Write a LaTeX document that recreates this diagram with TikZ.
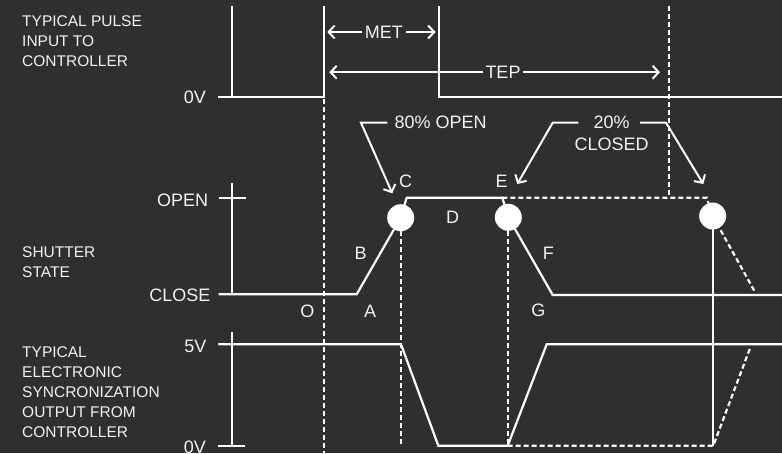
\documentclass[tikz,border=0pt]{standalone}
\usepackage{fontspec}
\setmainfont{Liberation Sans}
\usetikzlibrary{arrows.meta}
\definecolor{bg}{HTML}{2F2F2F}
\definecolor{fg}{HTML}{F2F2F2}
\begin{document}
\begin{tikzpicture}[x=1pt,y=-1pt,
  wave/.style={draw=white,line width=2.2pt,line join=miter},
  dsh/.style={draw=white,line width=2.2pt,dash pattern=on 5pt off 3pt},
  lbl/.style={text=fg,font=\fontsize{18}{22.7}\selectfont,inner sep=0pt},
  side/.style={text=fg,font=\fontsize{15.5}{20}\selectfont,inner sep=0pt,anchor=north west,align=left},
  arr/.style={draw=white,line width=2pt,-{Straight Barb[length=6pt,width=13pt]}},
  dot/.style={circle,fill=white,minimum size=27pt,inner sep=0pt}]
\fill[bg] (0,0) rectangle (782,453);
\useasboundingbox (0,0) rectangle (782,453);

% side labels
\node[side] (lpulse) at (22,15) {TYPICAL PULSE\\INPUT TO\\CONTROLLER};
\node[side] (lshut) at (22,246) {SHUTTER\\STATE};
\node[side] (lsync) at (22,346.7) {TYPICAL\\ELECTRONIC\\SYNCRONIZATION\\OUTPUT FROM\\CONTROLLER};

% axis labels
\node[lbl,anchor=east] (v0a) at (206,97.3) {0V};
\node[lbl,anchor=east] (open) at (208.3,200.3) {OPEN};
\node[lbl,anchor=east] (close) at (210.7,295) {CLOSE};
\node[lbl,anchor=east] (v5) at (206.7,346.3) {5V};
\node[lbl,anchor=east] (v0b) at (206,447) {0V};

% dashed verticals
\draw[dsh] (324,99) -- (324,453);
\draw[dsh] (401,231) -- (401,446);
\draw[dsh] (508,231) -- (508,446);
\draw[dsh] (669,6) -- (669,197.7);
% dashed alternate paths
\draw[dsh] (502.3,197.7) -- (706.7,197.7) -- (712.7,216) -- (755,292);
\draw[dsh] (507.7,445.7) -- (713.3,445.7) -- (750,348.3);

% top pulse
\draw[wave] (232,6) -- (232,97);
\draw[wave] (218,97) -- (324,97) -- (324,6);
\draw[wave] (439,6) -- (439,97) -- (782,97);

% shutter state
\draw[wave] (232,182.7) -- (232,294.3);
\draw[wave] (218.5,197.7) -- (245.7,197.7);
\draw[wave] (218.5,294.3) -- (356.7,294.3) -- (400.7,217.7) -- (406.7,197.7) -- (502.3,197.7) -- (508.3,217.3) -- (552.7,295) -- (782,295);

% sync output
\draw[wave] (232,331.7) -- (232,446);
\draw[wave] (218.3,446) -- (245,446);
\draw[wave] (218.3,344.3) -- (401,344.3) -- (438.3,445.7) -- (507.7,445.7) -- (546.7,344.3) -- (782,344.3);
\draw[wave] (713.3,216) -- (713.3,445.7);

% dots
\node[dot] (cC) at (400.7,217.7) {};
\node[dot] (cE) at (508.3,217.3) {};
\node[dot] (cR) at (712.7,216) {};

% MET / TEP
\node[lbl,inner sep=2.5pt] (met) at (383.8,32) {MET};
\coordinate (metL) at (327.3,32);
\coordinate (metR) at (435.5,32);
\draw[arr] (met) -- (metL);
\draw[arr] (met) -- (metR);
\node[lbl,inner sep=2pt] (tep) at (503,72.2) {TEP};
\coordinate (tepL) at (329.3,72.2);
\coordinate (tepR) at (660,72.2);
\draw[arr] (tep) -- (tepL);
\draw[arr] (tep) -- (tepR);

% callouts
\node[lbl,anchor=west] (o80) at (394.3,122) {80\% OPEN};
\coordinate (k80) at (361,122.7);
\coordinate (t80) at (392.3,193.3);
\draw[arr] (o80.west) ++(-7,0.7) -- (k80) -- (t80);
\node[lbl,align=center] (c20) at (611.7,133.3) {20\%\\CLOSED};
\coordinate (s20L) at (578.3,122.7);
\coordinate (k20L) at (552.7,122.7);
\coordinate (t20L) at (517.3,184);
\coordinate (s20R) at (640,122.7);
\coordinate (k20R) at (666,122.7);
\coordinate (t20R) at (703.3,184);
\draw[arr] (s20L) -- (k20L) -- (t20L);
\draw[arr] (s20R) -- (k20R) -- (t20R);

% letters
\node[lbl] (lC) at (405.7,181.7) {C};
\node[lbl] (lB) at (360.7,253.3) {B};
\node[lbl] (lE) at (501.7,181.7) {E};
\node[lbl] (lD) at (452.7,217.3) {D};
\node[lbl] (lF) at (548.3,253.3) {F};
\node[lbl] (lO) at (307.3,311.7) {O};
\node[lbl] (lA) at (370,311.7) {A};
\node[lbl] (lG) at (538.3,310.7) {G};
\end{tikzpicture}
\end{document}
